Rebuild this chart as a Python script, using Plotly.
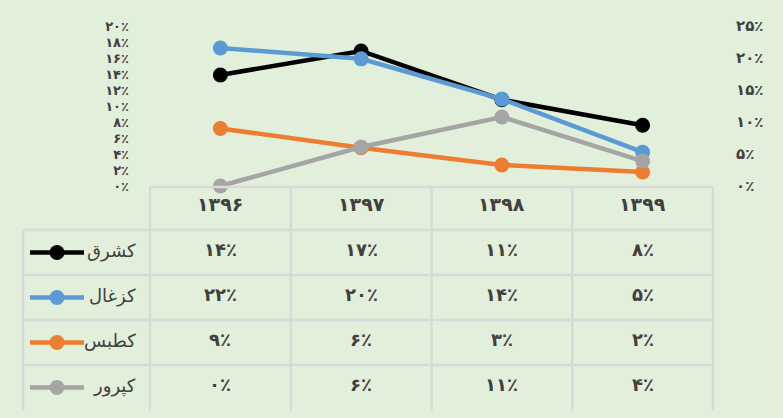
import plotly.graph_objects as go

years = ["۱۳۹۶", "۱۳۹۷", "۱۳۹۸", "۱۳۹۹"]
series_names = ["کشرق", "کزغال", "کطبس", "کپرور"]
kashargh = [13.9, 16.9, 10.8, 7.6]
kazghal = [21.6, 19.9, 13.6, 5.3]
katbas = [9.0, 6.0, 3.3, 2.2]
kaprur = [0.0, 6.1, 10.8, 3.9]
left_ticks = [0, 2, 4, 6, 8, 10, 12, 14, 16, 18, 20]
right_ticks = [0, 5, 10, 15, 20, 25]

colors = ["#000000", "#5B9BD5", "#ED7D31", "#A5A5A5"]
axes = ["y", "y2", "y2", "y2"]
values = [kashargh, kazghal, katbas, kaprur]

FA = str.maketrans("0123456789", "۰۱۲۳۴۵۶۷۸۹")


def fa(n):
    return str(n).translate(FA) + "٪"


W, H = 783, 418
X0, X1 = 150, 713
YT, YB = 18, 185
BG = "#E2EFDA"
GRID = "#D9D9D9"
TXT = "#404040"
FONT = "DejaVu Sans"


def px(x):
    return x / W


def py(y):
    return 1 - y / H


fig = go.Figure()
xs = list(range(len(years)))
for name, vals, col, ax in zip(series_names, values, colors, axes):
    fig.add_trace(go.Scatter(
        x=xs, y=vals, name=name, yaxis=ax, mode="lines+markers",
        line=dict(color=col, width=4.5),
        marker=dict(color=col, size=15),
        showlegend=False, cliponaxis=False,
    ))

shapes = []
annotations = []

col_edges = [X0 + i * (X1 - X0) / 4 for i in range(5)]
row_edges = [186, 231, 278, 325, 372, 419]
LEG_X = 23

line = dict(color=GRID, width=2.5)
shapes.append(dict(type="line", xref="paper", yref="paper",
                   x0=px(X0), x1=px(X1), y0=py(row_edges[0]), y1=py(row_edges[0]), line=line))
for r in row_edges[1:5]:
    shapes.append(dict(type="line", xref="paper", yref="paper",
                       x0=px(LEG_X), x1=px(X1), y0=py(r), y1=py(r), line=line))
for c in col_edges:
    shapes.append(dict(type="line", xref="paper", yref="paper",
                       x0=px(c), x1=px(c), y0=py(row_edges[0]), y1=py(H + 2), line=line))
shapes.append(dict(type="line", xref="paper", yref="paper",
                   x0=px(LEG_X), x1=px(LEG_X), y0=py(row_edges[1]), y1=py(H + 2), line=line))

for i, yr in enumerate(years):
    cx = (col_edges[i] + col_edges[i + 1]) / 2
    annotations.append(dict(x=px(cx), y=py(204), xref="paper", yref="paper",
                            xanchor="center", yanchor="middle",
                            text="<b>" + yr + "</b>", showarrow=False,
                            font=dict(family=FONT, size=19, color=TXT)))

for j, (name, vals, col) in enumerate(zip(series_names, values, colors)):
    cy = (row_edges[j + 1] + row_edges[j + 2]) / 2
    shapes.append(dict(type="line", xref="paper", yref="paper",
                       x0=px(30), x1=px(84), y0=py(cy), y1=py(cy),
                       line=dict(color=col, width=4.5)))
    shapes.append(dict(type="circle", xref="paper", yref="paper",
                       xsizemode="pixel", ysizemode="pixel",
                       xanchor=px(57), yanchor=py(cy),
                       x0=-7.5, x1=7.5, y0=-7.5, y1=7.5,
                       fillcolor=col, line=dict(color=col, width=0)))
    annotations.append(dict(x=px(138), y=py(cy - 2), xref="paper", yref="paper",
                            xanchor="right", yanchor="middle", text=name, showarrow=False,
                            font=dict(family=FONT, size=18, color=TXT)))
    for i, v in enumerate(vals):
        cx = (col_edges[i] + col_edges[i + 1]) / 2
        annotations.append(dict(x=px(cx), y=py(cy - 3), xref="paper", yref="paper",
                                xanchor="center", yanchor="middle",
                                text="<b>" + fa(round(v)) + "</b>", showarrow=False,
                                font=dict(family=FONT, size=18, color=TXT)))

fig.update_layout(
    width=W, height=H,
    margin=dict(l=0, r=0, t=0, b=0),
    paper_bgcolor=BG, plot_bgcolor=BG,
    shapes=shapes, annotations=annotations,
    xaxis=dict(domain=[px(X0), px(X1)], range=[-0.5, 3.5],
               showticklabels=False, showgrid=False, zeroline=False, showline=False),
    yaxis=dict(domain=[py(YB), py(YT)], range=[0, 20],
               tickvals=left_ticks, ticktext=["<b>" + fa(t) + "</b>" for t in left_ticks],
               showgrid=False, zeroline=False, showline=False,
               ticklabelstandoff=20,
               tickfont=dict(family=FONT, size=13, color=TXT)),
    yaxis2=dict(overlaying="y", side="right", range=[0, 25],
                tickvals=right_ticks, ticktext=["<b>" + fa(t) + "</b>" for t in right_ticks],
                showgrid=False, zeroline=False, showline=False,
                ticklabelstandoff=22,
                tickfont=dict(family=FONT, size=15, color=TXT)),
)

fig.write_html(
    "out.html",
    config={"displayModeBar": False},
    post_script="document.body.style.margin='0';document.body.style.background='%s';" % BG,
)
